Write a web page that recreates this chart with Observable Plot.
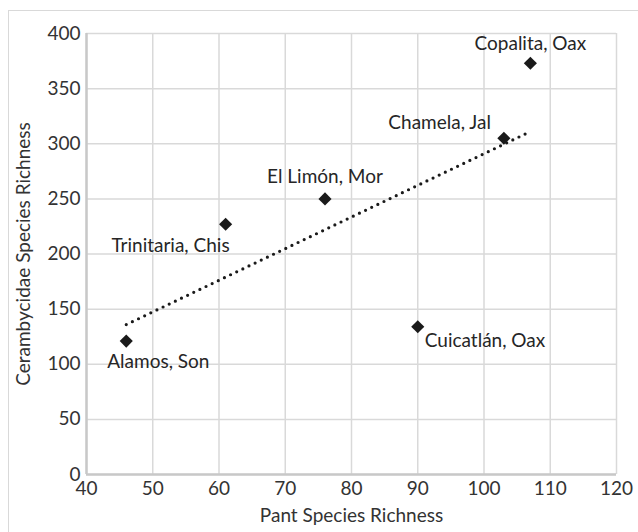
<!DOCTYPE html>
<html>
<head>
<meta charset="utf-8">
<script src="https://cdn.jsdelivr.net/npm/d3@7"></script>
<script src="https://cdn.jsdelivr.net/npm/@observablehq/plot@0.6"></script>
<style>
  html, body { margin: 0; padding: 0; background: #fff; overflow: hidden; }
  #chart { position: relative; width: 638px; height: 532px; overflow: hidden; }
  #frame { position: absolute; left: 8px; top: 10px; width: 700px; height: 600px; border: 1px solid #d9d9d9; box-sizing: border-box; pointer-events: none; }
</style>
</head>
<body>
<div id="chart"><div id="frame"></div></div>
<script>
const sites = ["Alamos, Son", "Trinitaria, Chis", "El Limón, Mor", "Cuicatlán, Oax", "Chamela, Jal", "Copalita, Oax"];
const plantRichness = [46, 61, 76, 90, 103, 107];
const cerambycidRichness = [121, 227, 250, 134, 305, 373];
const xTicks = [40, 50, 60, 70, 80, 90, 100, 110, 120];
const yTicks = [0, 50, 100, 150, 200, 250, 300, 350, 400];
const xTitle = "Pant Species Richness";
const yTitle = "Cerambycidae Species Richness";

const data = sites.map((s, i) => ({site: s, x: plantRichness[i], y: cerambycidRichness[i]}));

const font = "Lato, sans-serif";
const fs = 19;
const labelStyle = {fontSize: fs, fill: "#262626", fontFamily: font};
const place = {
  "Alamos, Son":      {textAnchor: "start", dx: -19, dy: 21},
  "Trinitaria, Chis": {textAnchor: "end",   dx: 4,   dy: 22},
  "El Limón, Mor":    {textAnchor: "middle", dx: 0,  dy: -22},
  "Cuicatlán, Oax":   {textAnchor: "start", dx: 7,   dy: 14},
  "Chamela, Jal":     {textAnchor: "end",   dx: -13, dy: -15},
  "Copalita, Oax":    {textAnchor: "middle", dx: 0,  dy: -19}
};

const labelMarks = data.map(d => Plot.text([d], {x: "x", y: "y", text: "site", ...labelStyle, ...place[d.site]}));

const plot = Plot.plot({
  width: 638,
  height: 532,
  marginLeft: 86,
  marginRight: 22,
  marginTop: 33,
  marginBottom: 58,
  style: {fontFamily: font, background: "transparent", overflow: "visible"},
  x: {domain: [40, 120]},
  y: {domain: [0, 400]},
  marks: [
    Plot.gridX(xTicks, {stroke: "#d9d9d9", strokeOpacity: 1, strokeWidth: 1.5}),
    Plot.gridY(yTicks, {stroke: "#d9d9d9", strokeOpacity: 1, strokeWidth: 1.5}),
    Plot.ruleX([40], {stroke: "#c8c8c8", strokeWidth: 2.5}),
    Plot.ruleY([0], {stroke: "#c8c8c8", strokeWidth: 2.5}),
    Plot.axisX(xTicks, {tickSize: 0, tickPadding: 7, fontSize: fs, fill: "#333", label: null}),
    Plot.axisY(yTicks, {tickSize: 0, tickPadding: 6, fontSize: fs, fill: "#333", label: null}),
    Plot.text([xTitle], {frameAnchor: "bottom", dy: 47, fontSize: fs, fill: "#333", fontFamily: font}),
    Plot.text([yTitle], {frameAnchor: "left", textAnchor: "middle", dx: -63, rotate: -90, fontSize: fs, fill: "#333", fontFamily: font}),
    Plot.linearRegressionY(data, {x: "x", y: "y", ci: 0, stroke: "#1a1a1a", strokeWidth: 3.2, strokeDasharray: "0,6.8", strokeLinecap: "round"}),
    Plot.dot(data, {x: "x", y: "y", symbol: "diamond2", r: 5.9, fill: "#1a1a1a", stroke: "none"}),
    ...labelMarks
  ]
});
document.getElementById("chart").appendChild(plot);
</script>
</body>
</html>
